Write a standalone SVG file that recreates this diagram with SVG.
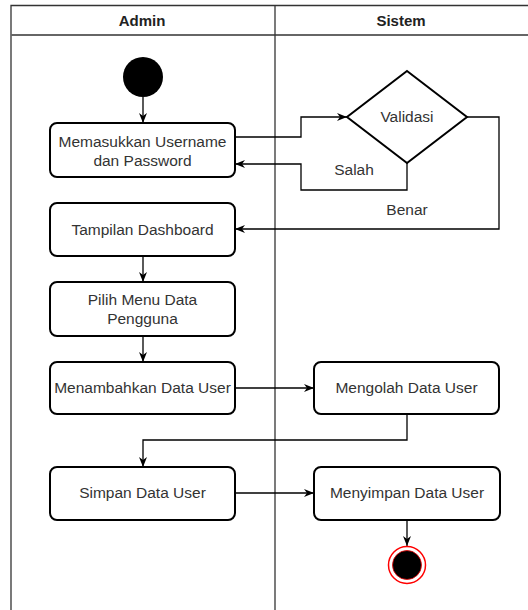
<svg xmlns="http://www.w3.org/2000/svg" width="528" height="610" viewBox="0 0 528 610">
<defs>
<style>
.lane{fill:none;stroke:#333;stroke-width:1.3}
.hdr{fill:none;stroke:#666;stroke-width:2}
.box{fill:#fff;stroke:#000;stroke-width:2}
.t{font-family:"Liberation Sans",Arial,sans-serif;font-size:15.5px;fill:#333;text-anchor:middle}
.h{font-family:"Liberation Sans",Arial,sans-serif;font-size:15px;font-weight:bold;fill:#222;text-anchor:middle}
.c{fill:none;stroke:#000;stroke-width:1.3}
</style>
<marker id="arr" viewBox="0 0 10 8" refX="10" refY="4" markerWidth="10" markerHeight="8" markerUnits="userSpaceOnUse" orient="auto">
<path d="M0,0 L10,4 L0,8 L3,4 z" fill="#000"/>
</marker>
</defs>
<rect x="0" y="0" width="528" height="610" fill="#fff"/>
<g id="pool">
<path class="lane" d="M11,640 L11,5.5 L529,5.5"/>
<line class="hdr" x1="11" y1="35" x2="529" y2="35"/>
<line class="lane" x1="275" y1="5.5" x2="275" y2="640"/>
<text class="h" x="142" y="26">Admin</text>
<text class="h" x="401" y="26">Sistem</text>
</g>
<g id="connectors">
<path class="c" marker-end="url(#arr)" d="M143,97 L143,123"/>
<path class="c" marker-end="url(#arr)" d="M235,137 L301,137 L301,117 L347,117"/>
<path class="c" marker-end="url(#arr)" d="M407,163 L407,190 L301,190 L301,164 L235,164"/>
<path class="c" marker-end="url(#arr)" d="M467,117 L499,117 L499,229 L235,229"/>
<path class="c" marker-end="url(#arr)" d="M143,256 L143,282"/>
<path class="c" marker-end="url(#arr)" d="M143,336 L143,362"/>
<path class="c" marker-end="url(#arr)" d="M235,388 L314,388"/>
<path class="c" marker-end="url(#arr)" d="M407,414 L407,440 L143,440 L143,467"/>
<path class="c" marker-end="url(#arr)" d="M235,493 L314,493"/>
<path class="c" marker-end="url(#arr)" d="M407,520 L407,546"/>
<text class="t" x="354" y="175">Salah</text>
<text class="t" x="407" y="215">Benar</text>
</g>
<g id="start"><circle cx="143" cy="77" r="20" fill="#000"/></g>
<g id="masukkan"><rect class="box" x="50" y="123" width="185" height="54" rx="7"/>
<text class="t" x="142.5" y="147">Memasukkan Username</text><text class="t" x="142.5" y="166">dan Password</text></g>
<g id="validasi"><polygon points="407,71 467,117 407,163 347,117" fill="#fff" stroke="#000" stroke-width="2"/>
<text class="t" x="407" y="122">Validasi</text></g>
<g id="dashboard"><rect class="box" x="50" y="203" width="185" height="53" rx="7"/>
<text class="t" x="142.5" y="235">Tampilan Dashboard</text></g>
<g id="pilih"><rect class="box" x="50" y="282" width="185" height="54" rx="7"/>
<text class="t" x="142.5" y="305">Pilih Menu Data</text><text class="t" x="142.5" y="324">Pengguna</text></g>
<g id="menambahkan"><rect class="box" x="50" y="362" width="185" height="52" rx="7"/>
<text class="t" x="142.5" y="393">Menambahkan Data User</text></g>
<g id="mengolah"><rect class="box" x="314" y="362" width="185" height="52" rx="7"/>
<text class="t" x="406.5" y="393">Mengolah Data User</text></g>
<g id="simpan"><rect class="box" x="50" y="467" width="185" height="53" rx="7"/>
<text class="t" x="142.5" y="498">Simpan Data User</text></g>
<g id="menyimpan"><rect class="box" x="314" y="467" width="186" height="53" rx="7"/>
<text class="t" x="407" y="498">Menyimpan Data User</text></g>
<g id="end"><circle cx="407" cy="565" r="18.5" fill="#fff" stroke="#f00" stroke-width="1.5"/>
<circle cx="407" cy="565" r="14.5" fill="#000" stroke="#e00" stroke-width="0.8"/></g>
</svg>
